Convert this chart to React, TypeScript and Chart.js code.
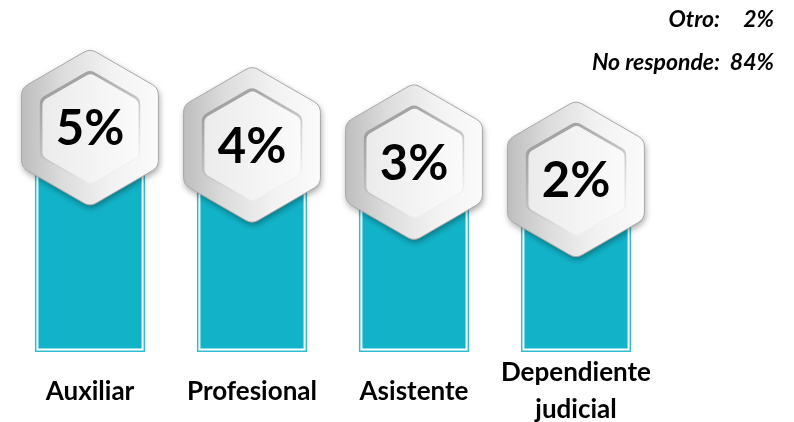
import React, { useEffect, useRef } from "react";
import { Chart, registerables } from "chart.js";

Chart.register(...registerables);

const categories: (string | string[])[] = ["Auxiliar", "Profesional", "Asistente", ["Dependiente", "judicial"]];
const values: number[] = [5, 4, 3, 2];
const extraLabels: string[] = ["Otro:", "No responde:"];
const extraValues: number[] = [2, 84];

const TEAL = "#12b3c9";
const FONT = "Lato, 'Open Sans', sans-serif";

function hexPath(ctx: CanvasRenderingContext2D, cx: number, cy: number, R: number, rad: number) {
  const pts: [number, number][] = [];
  for (let i = 0; i < 6; i++) {
    const a = -Math.PI / 2 + (i * Math.PI) / 3;
    pts.push([cx + R * Math.cos(a), cy + R * Math.sin(a)]);
  }
  const m0 = [(pts[5][0] + pts[0][0]) / 2, (pts[5][1] + pts[0][1]) / 2];
  ctx.beginPath();
  ctx.moveTo(m0[0], m0[1]);
  for (let i = 0; i < 6; i++) {
    const p = pts[i];
    const q = pts[(i + 1) % 6];
    ctx.arcTo(p[0], p[1], q[0], q[1], rad);
  }
  ctx.closePath();
}

const decoPlugin = {
  id: "deco",
  afterDatasetsDraw(chart: any) {
    const ctx: CanvasRenderingContext2D = chart.ctx;
    const meta = chart.getDatasetMeta(0);
    meta.data.forEach((bar: any, i: number) => {
      const { x, y, base, width } = bar.getProps(["x", "y", "base", "width"], true);
      ctx.save();
      ctx.strokeStyle = "#2fbdd2";
      ctx.lineWidth = 1.5;
      ctx.strokeRect(x - width / 2 + 0.75, y, width - 1.5, base - y - 0.75);
      ctx.restore();

      const cx = x;
      const cy = y;
      ctx.save();
      ctx.shadowColor = "rgba(0,0,0,0.35)";
      ctx.shadowBlur = 6;
      ctx.shadowOffsetX = 1;
      ctx.shadowOffsetY = 3;
      hexPath(ctx, cx, cy, 79, 12);
      const g = ctx.createLinearGradient(cx - 69, 0, cx + 69, 0);
      g.addColorStop(0, "#bdbdbd");
      g.addColorStop(0.3, "#dcdcdc");
      g.addColorStop(0.65, "#f2f2f2");
      g.addColorStop(1, "#fbfbfb");
      ctx.fillStyle = g;
      ctx.fill();
      ctx.restore();
      ctx.save();
      hexPath(ctx, cx, cy, 79, 12);
      ctx.strokeStyle = "#a9a9a9";
      ctx.lineWidth = 1;
      ctx.stroke();
      ctx.restore();

      ctx.save();
      hexPath(ctx, cx, cy, 58, 9);
      const gb = ctx.createLinearGradient(cx - 40, cy - 55, cx + 40, cy + 55);
      gb.addColorStop(0, "#959595");
      gb.addColorStop(0.5, "#c4c4c4");
      gb.addColorStop(1, "#ffffff");
      ctx.fillStyle = gb;
      ctx.fill();
      hexPath(ctx, cx + 0.5, cy + 1, 55.5, 8);
      const gi = ctx.createLinearGradient(cx - 50, 0, cx + 50, 0);
      gi.addColorStop(0, "#ebebeb");
      gi.addColorStop(1, "#fbfbfb");
      ctx.fillStyle = gi;
      ctx.fill();
      ctx.restore();

      ctx.save();
      ctx.fillStyle = "#000000";
      ctx.font = `bold 49px ${FONT}`;
      ctx.textAlign = "center";
      ctx.textBaseline = "middle";
      ctx.fillText(`${values[i]}%`, cx, cy + 2);
      ctx.restore();
    });

    ctx.save();
    ctx.fillStyle = "#000000";
    ctx.font = `italic bold 23px ${FONT}`;
    ctx.textBaseline = "middle";
    const ys = [20, 63];
    extraLabels.forEach((lab, i) => {
      ctx.textAlign = "right";
      ctx.fillText(lab, 720, ys[i]);
      ctx.fillText(`${extraValues[i]}%`, 774, ys[i]);
    });
    ctx.restore();
  },
};

export default function App() {
  const ref = useRef<HTMLCanvasElement>(null);
  useEffect(() => {
    if (!ref.current) return;
    const chart = new Chart(ref.current, {
      type: "bar",
      data: {
        labels: categories as any,
        datasets: [
          {
            data: values,
            base: -8,
            backgroundColor: TEAL,
            borderColor: "#ffffff",
            borderWidth: 3.5,
            borderSkipped: false,
            barPercentage: 0.68,
            categoryPercentage: 1,
          } as any,
        ],
      },
      options: {
        animation: false,
        responsive: true,
        maintainAspectRatio: false,
        layout: { padding: { left: 9, right: 137, top: 12, bottom: 0 } },
        plugins: { legend: { display: false }, tooltip: { enabled: false } },
        scales: {
          x: {
            grid: { display: false, drawTicks: false },
            border: { display: false },
            afterFit: (scale: any) => {
              scale.height = 70;
            },
            ticks: {
              color: "#000000",
              padding: 21,
              crossAlign: "center",
              font: { family: FONT, size: 26, weight: "bold", lineHeight: 1.4 },
              maxRotation: 0,
              autoSkip: false,
            },
          },
          y: { display: false, min: -8, max: 11.7 },
        },
      },
      plugins: [decoPlugin],
    });
    return () => chart.destroy();
  }, []);
  return (
    <div style={{ position: "fixed", left: 0, top: 0, width: 794, height: 422, background: "#ffffff" }}>
      <canvas ref={ref} />
    </div>
  );
}
